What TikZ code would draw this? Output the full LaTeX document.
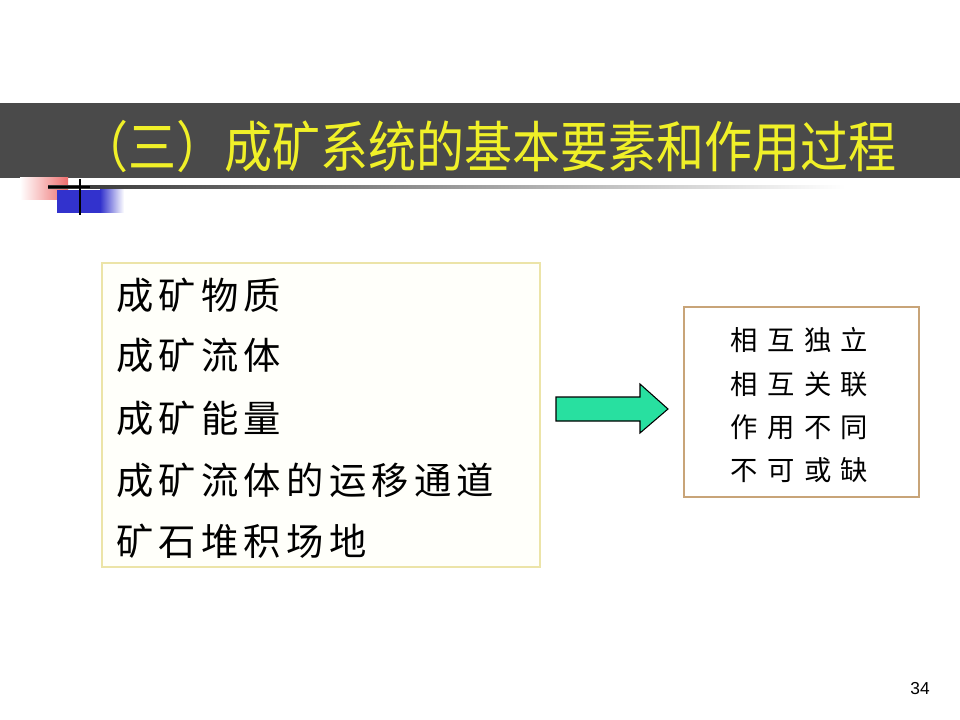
\documentclass[tikz,border=0pt]{standalone}
\usepackage{fontspec}
\newfontfamily\cjktitle{Noto Sans CJK SC}
\newfontfamily\cjkleft[LetterSpace=14]{Noto Sans CJK SC}
\newfontfamily\cjkright[LetterSpace=35]{Noto Sans CJK SC}
\newfontfamily\pagefont{Liberation Sans}
\definecolor{band}{RGB}{74,74,74}
\definecolor{titleyellow}{RGB}{240,240,40}
\definecolor{leftborder}{RGB}{236,228,168}
\definecolor{leftfill}{RGB}{255,255,250}
\definecolor{rightborder}{RGB}{200,164,120}
\definecolor{arrowgreen}{RGB}{40,224,160}
\definecolor{decoblue}{RGB}{50,50,205}
\definecolor{decored}{RGB}{238,110,110}
\tikzset{
  lefttext/.style={anchor=west, inner sep=0pt, font=\cjkleft\fontsize{28}{28}\selectfont},
  righttext/.style={anchor=west, inner sep=0pt, font=\cjkright\fontsize{20.5}{20.5}\selectfont},
}
\begin{document}
\begin{tikzpicture}[x=0.75pt,y=-0.75pt]
\useasboundingbox (0,0) rectangle (960,720);
\fill[white] (0,0) rectangle (960,720);
% title band
\fill[band] (0,103) rectangle (960,178);
\node[inner sep=0pt, text=titleyellow, font=\cjktitle\fontsize{36}{36}\selectfont, yscale=1.15, transform shape] (title) at (488,147) {（三）成矿系统的基本要素和作用过程};
% decoration
\shade[left color=white, right color=decored] (20,178) rectangle (68,200);
\fill[decoblue] (57,190) rectangle (100,213);
\shade[left color=decoblue, right color=white] (100,190) rectangle (124,213);
\shade[left color={rgb,255:red,50;green,50;blue,50}, right color=white] (48,185.5) rectangle (845,189);
\draw[black, line width=1.5pt] (48,187) -- (90,187);
\draw[black, line width=1.5pt] (80,179) -- (80,215);
% left box
\draw[leftborder, fill=leftfill, line width=1pt] (102,263) rectangle (540,567);
\node[lefttext] (l1) at (116,295) {成矿物质};
\node[lefttext] (l2) at (116,355) {成矿流体};
\node[lefttext] (l3) at (116,418) {成矿能量};
\node[lefttext] (l4) at (116,480) {成矿流体的运移通道};
\node[lefttext] (l5) at (116,541) {矿石堆积场地};
% arrow
\draw[black, fill=arrowgreen, line width=0.8pt] (556,397) -- (640,397) -- (640,384) -- (668,409) -- (640,433) -- (640,421) -- (556,421) -- cycle;
% right box
\draw[rightborder, fill=white, line width=1pt] (684,307) rectangle (919,497);
\node[righttext] (r1) at (730,340) {相互独立};
\node[righttext] (r2) at (730,384) {相互关联};
\node[righttext] (r3) at (730,427) {作用不同};
\node[righttext] (r4) at (730,470) {不可或缺};
% page number
\node[inner sep=0pt, font=\pagefont\fontsize{13}{13}\selectfont] (pg) at (920,689) {34};
\end{tikzpicture}
\end{document}
